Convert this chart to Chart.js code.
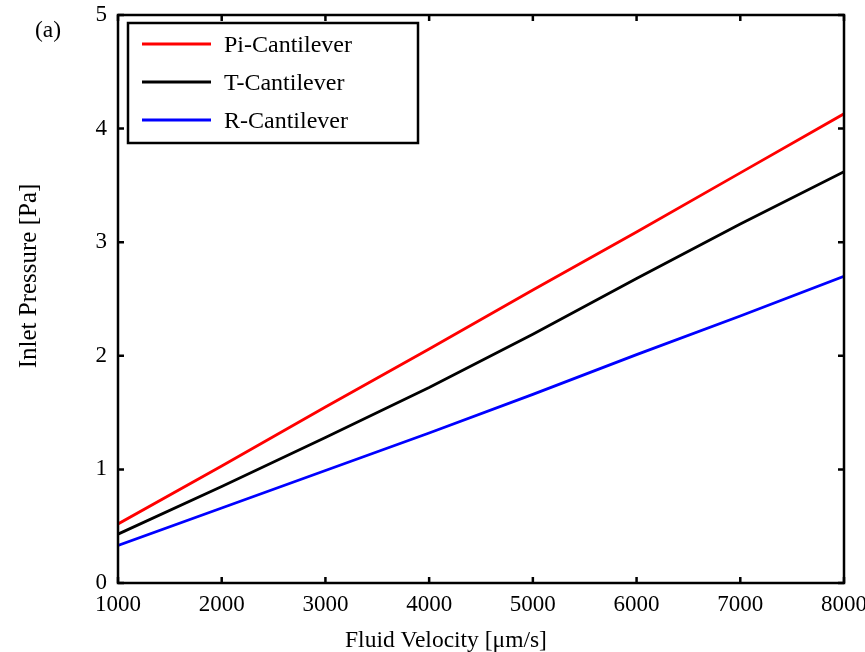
<!DOCTYPE html>
<html>
<head>
<meta charset="utf-8">
<title>Inlet Pressure vs Fluid Velocity</title>
<script src="https://cdn.jsdelivr.net/npm/chart.js@4.4.0/dist/chart.umd.min.js"></script>
<style>
    html, body { margin: 0; padding: 0; background: #fff; }
    #wrap { width: 865px; height: 652px; }
</style>
</head>
<body>
<div id="wrap"><canvas id="pressureChart" width="865" height="652"></canvas></div>
<script>
// fluid velocity [um/s] and inlet pressure [Pa] for each cantilever design
const velocities = [1000, 2000, 3000, 4000, 5000, 6000, 7000, 8000];
const piPressure = [0.52, 1.03, 1.55, 2.06, 2.58, 3.09, 3.61, 4.13];
const tPressure = [0.43, 0.85, 1.28, 1.72, 2.19, 2.68, 3.16, 3.62];
const rPressure = [0.33, 0.66, 0.99, 1.32, 1.66, 2.01, 2.35, 2.70];
const seriesNames = ['Pi-Cantilever', 'T-Cantilever', 'R-Cantilever'];
const seriesColors = ['#ff0000', '#000000', '#0000ff'];
const xTicks = [1000, 2000, 3000, 4000, 5000, 6000, 7000, 8000];
const yTicks = [0, 1, 2, 3, 4, 5];

const serif = "'Liberation Serif', 'Times New Roman', serif";

function toPoints(ys) {
    return velocities.map((v, i) => ({ x: v, y: ys[i] }));
}

// box around the plot, inward ticks on all four sides, legend and panel tag
const framePlugin = {
    id: 'frame',
    afterDatasetsDraw(chart) {
        const { ctx, chartArea: a, scales: { x, y } } = chart;
        const tick = 6;
        ctx.save();
        ctx.strokeStyle = '#000';
        ctx.lineWidth = 2.5;
        ctx.beginPath();
        xTicks.forEach(v => {
            const px = x.getPixelForValue(v);
            ctx.moveTo(px, a.bottom);
            ctx.lineTo(px, a.bottom - tick);
            ctx.moveTo(px, a.top);
            ctx.lineTo(px, a.top + tick);
        });
        yTicks.forEach(v => {
            const py = y.getPixelForValue(v);
            ctx.moveTo(a.left, py);
            ctx.lineTo(a.left + tick, py);
            ctx.moveTo(a.right, py);
            ctx.lineTo(a.right - tick, py);
        });
        ctx.stroke();
        ctx.strokeRect(a.left, a.top, a.right - a.left, a.bottom - a.top);

        // legend box
        const lx = a.left + 10, ly = a.top + 8, lw = 290, lh = 120;
        ctx.fillStyle = '#fff';
        ctx.fillRect(lx, ly, lw, lh);
        ctx.strokeRect(lx, ly, lw, lh);
        ctx.font = '24px ' + serif;
        ctx.textBaseline = 'middle';
        ctx.textAlign = 'left';
        chart.data.datasets.forEach((ds, i) => {
            const ry = ly + 21 + i * 38;
            ctx.strokeStyle = ds.borderColor;
            ctx.lineWidth = 2.8;
            ctx.beginPath();
            ctx.moveTo(lx + 14, ry);
            ctx.lineTo(lx + 83, ry);
            ctx.stroke();
            ctx.fillStyle = '#000';
            ctx.fillText(ds.label, lx + 96, ry + 2);
        });

        // axis titles and panel tag
        ctx.fillStyle = '#000';
        ctx.font = '23.5px ' + serif;
        ctx.textAlign = 'center';
        ctx.textBaseline = 'alphabetic';
        ctx.fillText('Fluid Velocity [\u03bcm/s]', 446, 647);
        ctx.fillText('(a)', 48, 37);
        ctx.save();
        ctx.translate(36, 276);
        ctx.rotate(-Math.PI / 2);
        ctx.font = '25px ' + serif;
        ctx.fillText('Inlet Pressure [Pa]', 0, 0);
        ctx.restore();
        ctx.restore();
    }
};

const chart = new Chart(document.getElementById('pressureChart'), {
    type: 'line',
    data: {
        datasets: [piPressure, tPressure, rPressure].map((ys, i) => ({
            label: seriesNames[i],
            data: toPoints(ys),
            borderColor: seriesColors[i],
            backgroundColor: seriesColors[i],
            borderWidth: 2.8,
            pointRadius: 0,
            tension: 0,
            fill: false
        }))
    },
    options: {
        responsive: false,
        animation: false,
        layout: { padding: { top: 15, right: 21, left: 0, bottom: 0 } },
        plugins: {
            legend: { display: false },
            tooltip: { enabled: false }
        },
        scales: {
            x: {
                type: 'linear',
                min: 1000,
                max: 8000,
                afterBuildTicks: s => { s.ticks = xTicks.map(v => ({ value: v })); },
                afterFit: s => {
                    s.height = 69;
                    s.paddingLeft = 0;
                    s.paddingRight = 0;
                },
                grid: { display: false, drawTicks: false },
                border: { display: false },
                ticks: {
                    color: '#000',
                    padding: 8,
                    maxRotation: 0,
                    callback: v => String(v),
                    font: { family: serif, size: 23 }
                }
            },
            y: {
                min: 0,
                max: 5,
                afterBuildTicks: s => { s.ticks = yTicks.map(v => ({ value: v })); },
                afterFit: s => {
                    s.width = 118;
                    s.paddingTop = 0;
                    s.paddingBottom = 0;
                },
                grid: { display: false, drawTicks: false },
                border: { display: false },
                ticks: {
                    color: '#000',
                    padding: 11,
                    callback: v => String(v),
                    font: { family: serif, size: 23 }
                }
            }
        }
    },
    plugins: [framePlugin]
});
</script>
</body>
</html>
